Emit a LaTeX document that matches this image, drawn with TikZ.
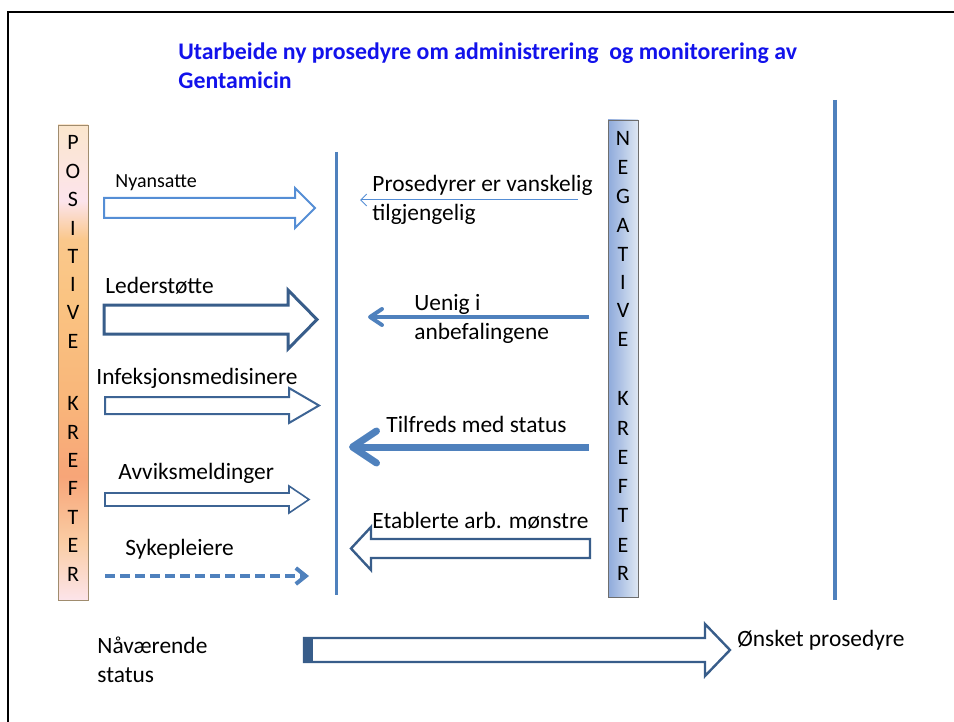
\documentclass[tikz,border=0pt]{standalone}
\usepackage{fontspec}
\setmainfont{Carlito}
\usetikzlibrary{arrows.meta}

\definecolor{titleblue}{RGB}{18,18,235}
\definecolor{darkblue}{RGB}{56,93,138}
\definecolor{midblue}{RGB}{79,129,189}
\definecolor{lightblue}{RGB}{85,142,213}
\definecolor{negleft}{RGB}{142,170,219}
\definecolor{negright}{RGB}{222,231,243}
\definecolor{posedge}{RGB}{160,140,110}
\definecolor{negedge}{RGB}{110,110,110}
\definecolor{posa}{RGB}{252,228,234}
\definecolor{posb}{RGB}{250,205,165}
\definecolor{posc}{RGB}{247,165,120}
\definecolor{posd}{RGB}{249,182,122}
\definecolor{pose}{RGB}{250,196,130}
\definecolor{posf}{RGB}{250,200,140}
\definecolor{posg}{RGB}{252,228,236}
\definecolor{posh}{RGB}{251,230,205}

\pgfdeclareverticalshading{posgrad}{100bp}{color(0bp)=(posa); color(25bp)=(posa);
	color(31bp)=(posb); color(38bp)=(posc); color(46bp)=(posd); color(57bp)=(pose);
	color(63bp)=(posf); color(67bp)=(posg); color(75bp)=(posh); color(100bp)=(posh)}

\begin{document}
\begin{tikzpicture}[x = 0.5pt, y = -0.5pt,
	lbl/.style = {anchor = west, inner sep = 0pt, align = left,
		font = \fontsize{11.7}{14.5}\selectfont},
	letter/.style = {inner sep = 0pt, font = \fontsize{11}{12}\selectfont}]
	\useasboundingbox (0,0) rectangle (954,722);

	\coordinate[](frameA) at (8,730) ;
	\coordinate[](frameB) at (960,12) ;
	\draw[line width = 1pt] (frameA) |- (frameB);

	\node[lbl, titleblue, font = \fontsize{11.9}{14.5}\selectfont\bfseries](titel) at (178,66)
		{Utarbeide ny prosedyre om administrering\ \ og monitorering av\\Gentamicin};

	% kreftene
	\draw[posedge, shading = posgrad] (58,125) rectangle (88,600);
	\foreach \l/\y [count = \i] in {P/142, O/171, S/199, I/228, T/256, I/284, V/312, E/341,
		K/403, R/432, E/460, F/488, T/517, E/545, R/574}
		\node[letter](pos\i) at (73,\y) {\l};
	\draw[negedge, left color = negleft, right color = negright] (608,120) rectangle (638,597);
	\foreach \l/\y [count = \i] in {N/138, E/167, G/196, A/225, T/254, I/282, V/310, E/339,
		K/398, R/428, E/457, F/486, T/515, E/545, R/573}
		\node[letter](neg\i) at (623,\y) {\l};

	\draw[midblue, line width = 1.5pt] (336,152) -- (336,595);
	\draw[midblue, line width = 2pt] (835,100) -- (835,600);

	% positive
	\draw[lightblue, line width = 1pt, fill = white]
		(104,198) -- (295,198) -- (295,188) -- (315,208) -- (295,228) -- (295,218) -- (104,218) -- cycle;
	\node[lbl, font = \fontsize{10}{12}\selectfont](nyansatte) at (115,183) {Nyansatte};

	\draw[darkblue, line width = 1.5pt, fill = white]
		(104,305) -- (288,305) -- (288,290) -- (317,319.5) -- (288,349) -- (288,334) -- (104,334) -- cycle;
	\node[lbl](lederstotte) at (105,286) {Lederstøtte};

	\draw[darkblue!80!midblue, line width = 1pt, fill = white]
		(105,397) -- (289,397) -- (289,388) -- (319,405.5) -- (289,423) -- (289,414) -- (105,414) -- cycle;
	\node[lbl](infeksjon) at (96,378) {Infeksjonsmedisinere};

	\draw[darkblue!80!midblue, line width = 0.8pt, fill = white]
		(105,493) -- (289,493) -- (289,486) -- (309,499.5) -- (289,513) -- (289,506) -- (105,506) -- cycle;
	\node[lbl](avvik) at (118,473) {Avviksmeldinger};

	\coordinate[](sykS) at (105,576) ;
	\coordinate[](sykE) at (309,576) ;
	\draw[midblue, line width = 2pt, dash pattern = on 5pt off 2.5pt,
		-{Straight Barb[length = 5pt, width = 8pt]}] (sykS) -- (sykE);
	\node[lbl](sykepleiere) at (125,549) {Sykepleiere};

	% negative
	\coordinate[](prosS) at (578,200) ;
	\coordinate[](prosE) at (360,200) ;
	\draw[lightblue, line width = 0.5pt, -{Straight Barb[length = 3pt, width = 6pt]}] (prosS) -- (prosE);
	\node[lbl](prosedyrer) at (372,200) {Prosedyrer er vanskelig\\tilgjengelig};

	\coordinate[](uenigS) at (589,317) ;
	\coordinate[](uenigE) at (368,317) ;
	\draw[midblue, line width = 2pt, -{Straight Barb[length = 6pt, width = 8pt, round]}] (uenigS) -- (uenigE);
	\node[lbl](uenig) at (414,319) {Uenig i\\anbefalingene};

	\coordinate[](tilfS) at (589,447) ;
	\coordinate[](tilfE) at (349,447) ;
	\draw[midblue, line width = 3.5pt, -{Straight Barb[length = 12pt, width = 16pt, round]}] (tilfS) -- (tilfE);
	\node[lbl](tilfreds) at (386,424) {Tilfreds med status};

	\draw[darkblue, line width = 1.2pt, fill = white]
		(590,539) -- (371,539) -- (371,527) -- (351,548.5) -- (371,570) -- (371,558) -- (590,558) -- cycle;
	\node[lbl](etablerte) at (372,521) {Etablerte arb. mønstre};

	% status
	\draw[darkblue, line width = 1.2pt, fill = white]
		(304,638) -- (705,638) -- (705,624) -- (730,650) -- (705,676) -- (705,662) -- (304,662) -- cycle;
	\fill[darkblue] (304,638) rectangle (313,662);
	\node[lbl](naa) at (97,660) {Nåværende\\status};
	\node[lbl](onsket) at (737,640) {Ønsket prosedyre};
\end{tikzpicture}
\end{document}
